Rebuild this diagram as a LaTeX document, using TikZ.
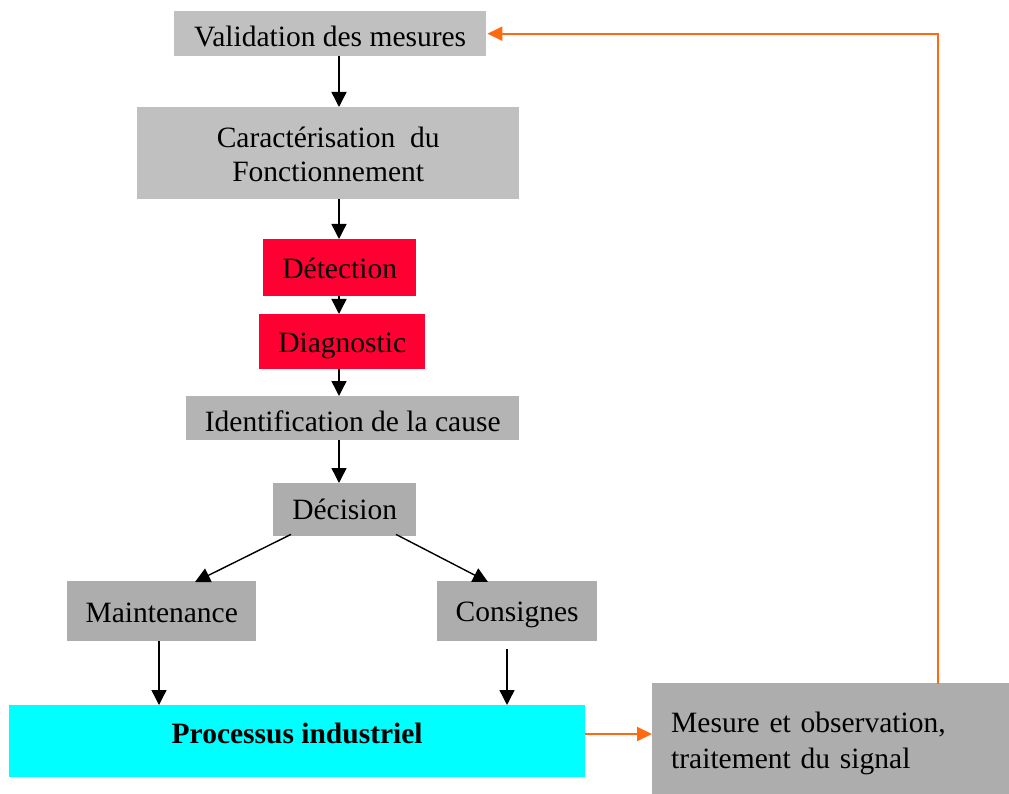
\documentclass[tikz,border=0pt]{standalone}
\usepackage{fontspec}
\setmainfont{Liberation Serif}
\usetikzlibrary{arrows.meta}
\definecolor{boxlight}{HTML}{C0C0C0}
\definecolor{boxmid}{HTML}{B4B4B4}
\definecolor{boxdark}{HTML}{ADADAD}
\definecolor{alarm}{HTML}{FF0033}
\definecolor{plant}{HTML}{00FFFF}
\definecolor{feedback}{HTML}{FF6A10}
% shift a label vertically without changing its reported size
\newcommand{\lowerlabel}[2]{\raisebox{-#1}[\height][\depth]{#2}}
\begin{document}
\begin{tikzpicture}[x=1pt,y=-1pt,
  block/.style={rectangle, inner sep=0pt, anchor=north west, align=center,
    font=\fontsize{29.5}{34}\selectfont},
  arr/.style={draw=black, line width=1.4pt, -{Triangle[length=15pt,width=15pt]}},
  farr/.style={draw=feedback, line width=2pt, -{Triangle[length=15pt,width=14pt]}}]
\useasboundingbox (0,0) rectangle (1009,794);

% blocks of the chain
\node[block, fill=boxlight, minimum width=312pt, minimum height=45pt] (val) at (174,11) {\lowerlabel{3pt}{Validation des mesures}};
\node[block, fill=boxlight, minimum width=382pt, minimum height=92pt] (car) at (137,107) {\lowerlabel{5pt}{\begin{tabular}{@{}c@{}}Caractérisation\ \ du\\Fonctionnement\end{tabular}}};
\node[block, fill=alarm, minimum width=153pt, minimum height=57pt] (det) at (263,239) {\lowerlabel{1pt}{Détection}};
\node[block, fill=alarm, minimum width=166pt, minimum height=55pt] (dia) at (259,314) {\lowerlabel{4pt}{Diagnostic}};
\node[block, fill=boxmid, minimum width=333pt, minimum height=44pt] (ide) at (186,396) {\lowerlabel{3.5pt}{Identification de la cause}};
\node[block, fill=boxdark, minimum width=143pt, minimum height=53pt] (dec) at (273,483) {Décision};
\node[block, fill=boxdark, minimum width=189pt, minimum height=60pt] (mai) at (67,581) {\lowerlabel{1.5pt}{Maintenance}};
\node[block, fill=boxdark, minimum width=160pt, minimum height=60pt] (con) at (437,581) {\lowerlabel{3.5pt}{Consignes}};
\node[block, fill=plant, minimum width=576pt, minimum height=72pt, font=\fontsize{29.5}{34}\selectfont\bfseries] (pro) at (9,705) {\lowerlabel{-8pt}{Processus industriel}};
\node[block, fill=boxdark, minimum width=357pt, minimum height=111pt, align=left,
  text width=327pt, inner xsep=19pt, font=\fontsize{29.5}{36}\selectfont] (mes) at (652,683)
  {\lowerlabel{5pt}{\begin{tabular}{@{}l@{}}Mesure et observation,\\traitement du signal\end{tabular}}};

% reference abscissae and ordinates for the connectors
\coordinate (xa) at (339,0);
\coordinate (xl1) at (291,0);
\coordinate (xl2) at (195,0);
\coordinate (xr1) at (396,0);
\coordinate (xr2) at (488,0);
\coordinate (xm) at (159,0);
\coordinate (xc) at (507,0);
\coordinate (xf) at (938,0);
\coordinate (yp) at (0,734);

% main chain
\draw[arr] (val.south -| xa) -- (car.north -| xa);
\draw[arr] (car.south -| xa) -- (det.north -| xa);
\draw[arr] (det.south -| xa) -- (dia.north -| xa);
\draw[arr] (dia.south -| xa) -- (ide.north -| xa);
\draw[arr] (ide.south -| xa) -- (dec.north -| xa);
\draw[arr] ([yshift=2pt]dec.south -| xl1) -- ([yshift=-1pt]mai.north -| xl2);
\draw[arr] ([yshift=2pt]dec.south -| xr1) -- ([yshift=-1pt]con.north -| xr2);
\draw[arr] (mai.south -| xm) -- (pro.north -| xm);
\draw[arr] ([yshift=-8pt]con.south -| xc) -- (pro.north -| xc);

% measurement loop
\draw[farr] (pro.east |- yp) -- (mes.west |- yp);
\draw[farr] ([yshift=-1pt]mes.north -| xf) |- ([xshift=1pt]val.east);
\end{tikzpicture}
\end{document}
